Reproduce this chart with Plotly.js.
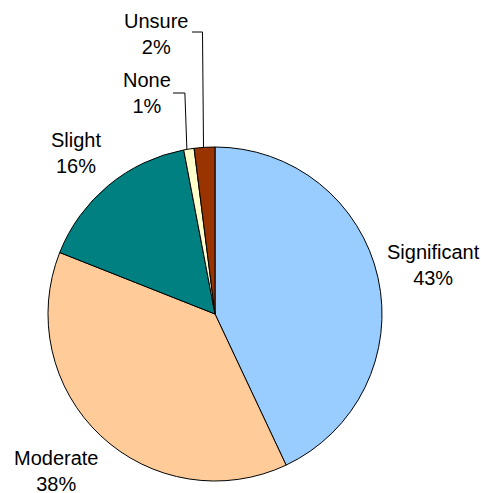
<!DOCTYPE html>
<html>
<head>
<meta charset="utf-8">
<script src="https://cdn.plot.ly/plotly-3.0.1.min.js"></script>
<style>
  html, body { margin: 0; padding: 0; background: #fff; }
  #chart { width: 481px; height: 493px; }
</style>
</head>
<body>
<div id="chart"></div>
<script>
// Degree of impact reported, share of responses
const categories = ["Significant", "Moderate", "Slight", "None", "Unsure"];
const shares = [43, 38, 16, 1, 2];
const sliceColors = ["#99CCFF", "#FFCC99", "#008080", "#FFFFCC", "#993300"];

const W = 481, H = 493;
// pie centre and radius in pixels
const cx = 215, cy = 314, r = 167;

// pixel -> paper helpers
const px = v => v / W;
const py = v => 1 - v / H;

// label block centres (pixels)
const labelPos = {
  Significant: [433, 265],
  Moderate: [56, 471],
  Slight: [76, 153],
  None: [147, 93],
  Unsure: [156, 34]
};

// slices with a leader line: horizontal shift of the elbow, elbow height, end of the short arm
const leaders = {
  None: { dx: -4, elbowY: 93, endX: 173 },
  Unsure: { dx: -2, elbowY: 32, endX: 192 }
};

const total = shares.reduce((a, b) => a + b, 0);
let cum = 0;
const annotations = [];
const shapes = [];
categories.forEach((name, i) => {
  const mid = (cum + shares[i] / 2) / total;   // fraction of the turn, clockwise from 12 o'clock
  cum += shares[i];
  const [lx, ly] = labelPos[name];
  annotations.push({
    xref: "paper", yref: "paper",
    x: px(lx), y: py(ly),
    xanchor: "center", yanchor: "middle",
    text: name + "<br>" + shares[i] + "%",
    showarrow: false,
    align: "center",
    font: { family: "Liberation Sans, Arial, sans-serif", size: 20, color: "#000" }
  });
  if (leaders[name]) {
    const a = mid * 2 * Math.PI;
    const L = leaders[name];
    const sx = cx + r * Math.sin(a) + L.dx / 2;
    const sy = cy - r * Math.cos(a);
    const ex = sx + L.dx / 2;
    shapes.push({
      type: "path", xref: "paper", yref: "paper",
      path: `M ${px(sx)} ${py(sy)} L ${px(ex)} ${py(L.elbowY)} L ${px(L.endX)} ${py(L.elbowY)}`,
      line: { color: "#000", width: 1 }
    });
  }
});

const data = [{
  type: "pie",
  labels: categories,
  values: shares,
  sort: false,
  direction: "clockwise",
  rotation: 0,
  textinfo: "none",
  hoverinfo: "label+percent",
  marker: { colors: sliceColors, line: { color: "#000", width: 1 } },
  domain: { x: [px(cx - r), px(cx + r)], y: [py(cy + r), py(cy - r)] }
}];

const layout = {
  width: W, height: H,
  margin: { l: 0, r: 0, t: 0, b: 0 },
  paper_bgcolor: "#fff",
  showlegend: false,
  annotations: annotations,
  shapes: shapes
};

Plotly.newPlot("chart", data, layout, { staticPlot: true, displayModeBar: false });
</script>
</body>
</html>
